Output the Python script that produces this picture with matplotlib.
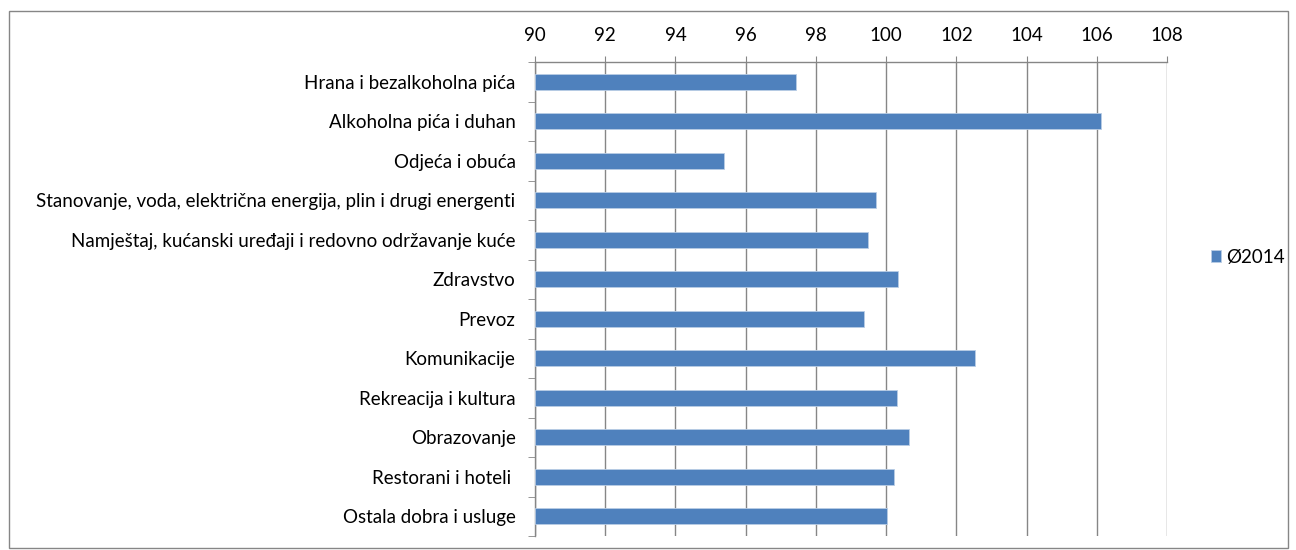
import matplotlib
matplotlib.use("Agg")
import matplotlib.pyplot as plt
from matplotlib.patches import Rectangle

categories = [
    "Hrana i bezalkoholna pića",
    "Alkoholna pića i duhan",
    "Odjeća i obuća",
    "Stanovanje, voda, električna energija, plin i drugi energenti",
    "Namještaj, kućanski uređaji i redovno održavanje kuće",
    "Zdravstvo",
    "Prevoz",
    "Komunikacije",
    "Rekreacija i kultura",
    "Obrazovanje",
    "Restorani i hoteli ",
    "Ostala dobra i usluge",
]
values_2014 = [97.43, 106.13, 95.39, 99.71, 99.49, 100.33, 99.38, 102.52, 100.31, 100.65, 100.23, 100.02]
series_label = "Ø2014"
x_ticks = [90, 92, 94, 96, 98, 100, 102, 104, 106, 108]

plt.rcParams['font.family'] = ['Lato', 'DejaVu Sans']
FS = 13.5

fig = plt.figure(figsize=(12.96, 5.5), dpi=100)
ax = fig.add_axes([535/1296, 1 - 536/550, (1167-535)/1296, (536-62)/550])

n = len(categories)
pos = list(range(n))
ax.barh(pos, [v - 90 for v in values_2014], left=90, height=0.4,
        color="#4F81BD", edgecolor="#B9CDE5", linewidth=0.6, label=series_label, zorder=3)

ax.set_xlim(90, 108)
ax.set_ylim(n - 0.5, -0.5)
ax.set_xticks(x_ticks)
ax.set_xticklabels([str(t) for t in x_ticks], fontsize=FS)
ax.xaxis.tick_top()
ax.tick_params(axis='x', length=4, color="#868686", pad=9)
ax.set_yticks(pos)
ax.set_yticklabels(categories, fontsize=FS)
ax.tick_params(axis='y', length=0, pad=14)
# category boundary ticks
ax.set_yticks([p - 0.5 for p in pos] + [n - 0.5], minor=True)
ax.tick_params(axis='y', which='minor', length=5, color="#868686", direction='out')

ax.grid(axis='x', color="#868686", linewidth=1.0, zorder=0)
for s in ['right', 'bottom']:
    ax.spines[s].set_visible(False)
for s in ['left', 'top']:
    ax.spines[s].set_color("#868686")
    ax.spines[s].set_linewidth(1.0)

leg = fig.legend(loc='center left', bbox_to_anchor=(1203/1296, 1 - 257/550), frameon=False,
                 fontsize=FS, handlelength=0.55, handleheight=0.55, handletextpad=0.3,
                 borderaxespad=0)

fig.patches.append(Rectangle((9/1296, 1 - 548/550), (1288-9)/1296, (548-11)/550,
                             transform=fig.transFigure, fill=False,
                             edgecolor="#868686", linewidth=1.0))

fig.savefig("out.png", dpi=100)
